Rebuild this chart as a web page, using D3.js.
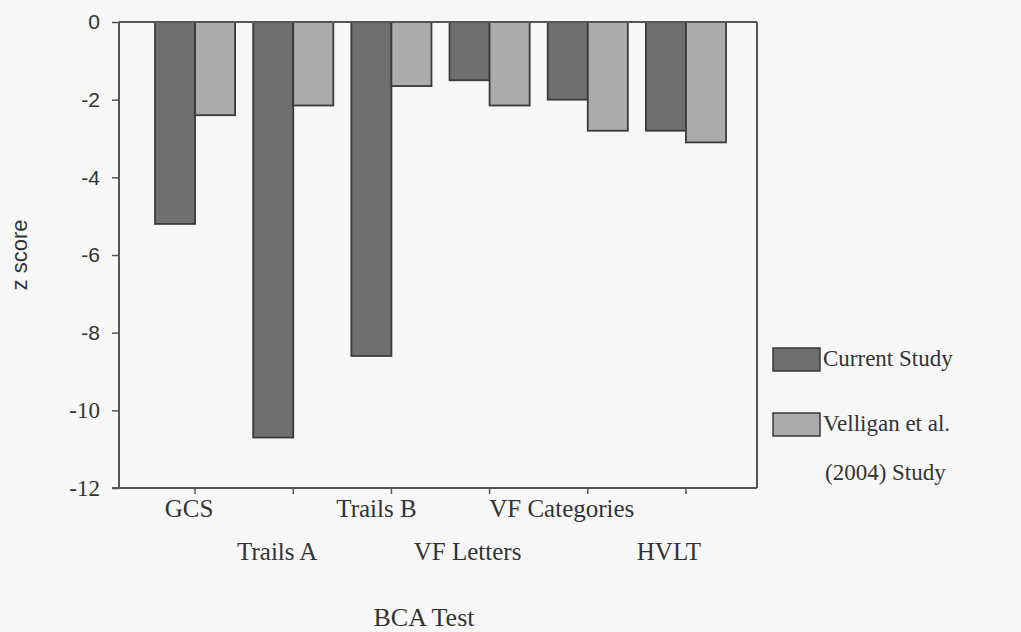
<!DOCTYPE html>
<html>
<head>
<meta charset="utf-8">
<script src="https://cdn.jsdelivr.net/npm/d3@7"></script>
<style>
  html, body { margin: 0; padding: 0; background: #f7f7f7; }
  svg { display: block; }
</style>
</head>
<body>
<svg id="chart" width="1021" height="632"></svg>
<script>
// ---- data ----
const categories = ["GCS", "Trails A", "Trails B", "VF Letters", "VF Categories", "HVLT"];
const series = ["Current Study", "Velligan et al. (2004) Study"];
const currentStudy = [-5.2, -10.7, -8.6, -1.5, -2.0, -2.8];
const velligan2004 = [-2.4, -2.15, -1.65, -2.15, -2.8, -3.1];
const yTicks = [0, -2, -4, -6, -8, -10, -12];
const xTitle = "BCA Test";
const yTitle = "z score";
const legendLines = [["Current Study"], ["Velligan et al.", "(2004) Study"]];

// layout (label nudges relative to tick marks)
const labelDx = [-6, -16, -15, -22, -26, -17];

const values = [currentStudy, velligan2004];
const fills = ["#6f6f6f", "#ababab"];

const svg = d3.select("#chart");
svg.append("rect").attr("width", 1021).attr("height", 632).attr("fill", "#f7f7f7");

const plot = { left: 119, right: 757, top: 22, bottom: 488 };

const x0 = d3.scaleBand().domain(categories).range([155, 726]).paddingInner(0.184).paddingOuter(0);
const x1 = d3.scaleBand().domain(series).range([0, x0.bandwidth()]);
const y = d3.scaleLinear().domain([-12, 0]).range([plot.bottom, plot.top]);

const axisColor = "#555";

// bars
const groups = svg.append("g").selectAll("g").data(categories).join("g")
  .attr("transform", d => `translate(${x0(d)},0)`);
groups.selectAll("rect").data((d, i) => series.map((s, j) => ({ s, v: values[j][i], j })))
  .join("rect")
  .attr("x", d => x1(d.s))
  .attr("y", d => y(0))
  .attr("width", x1.bandwidth())
  .attr("height", d => y(d.v) - y(0))
  .attr("fill", d => fills[d.j])
  .attr("stroke", "#3a3a3a").attr("stroke-width", 1.8);

// frame
const frame = svg.append("g").attr("stroke", axisColor).attr("stroke-width", 2).attr("fill", "none");
frame.append("line").attr("x1", plot.left).attr("x2", plot.right).attr("y1", plot.top).attr("y2", plot.top);
frame.append("line").attr("x1", plot.right).attr("x2", plot.right).attr("y1", plot.top).attr("y2", plot.bottom);

// y axis
const yAxis = svg.append("g").attr("transform", `translate(${plot.left},0)`)
  .call(d3.axisLeft(y).tickValues(yTicks).tickSize(7).tickPadding(12).tickFormat(d3.format("d")));
yAxis.select(".domain").attr("stroke", axisColor).attr("stroke-width", 2)
  .attr("d", `M0,${plot.top}V${plot.bottom}`);
yAxis.selectAll(".tick line").attr("stroke", axisColor).attr("stroke-width", 1.5);
yAxis.selectAll(".tick text")
  .attr("font-family", d => d <= -10 ? "Liberation Serif" : "Liberation Sans")
  .attr("font-size", d => d <= -10 ? 23 : 21)
  .attr("fill", "#333")
  .text(d => d === 0 ? "0" : "-" + Math.abs(d));

// x axis
const xAxis = svg.append("g").attr("transform", `translate(0,${plot.bottom})`)
  .call(d3.axisBottom(x0).tickSize(6).tickFormat(""));
xAxis.select(".domain").attr("stroke", axisColor).attr("stroke-width", 2)
  .attr("d", `M${plot.left - 7},0H${plot.right}`);
xAxis.selectAll(".tick line").attr("stroke", axisColor).attr("stroke-width", 1.5);
xAxis.selectAll(".tick").append("text")
  .attr("x", (d, i) => labelDx[i])
  .attr("y", (d, i) => i % 2 === 0 ? 29 : 72)
  .attr("text-anchor", "middle")
  .attr("font-family", "Liberation Serif").attr("font-size", 25)
  .attr("fill", "#333")
  .text(d => d);

// axis titles
svg.append("text").attr("x", 424).attr("y", 626).attr("text-anchor", "middle")
  .attr("font-family", "Liberation Serif").attr("font-size", 26).attr("fill", "#333").text(xTitle);
svg.append("text").attr("transform", `translate(27,${(plot.top + plot.bottom) / 2}) rotate(-90)`)
  .attr("text-anchor", "middle")
  .attr("font-family", "Liberation Sans").attr("font-size", 22).attr("fill", "#333").text(yTitle);

// legend
const legend = svg.append("g").attr("transform", "translate(773,348)");
const lg = legend.selectAll("g").data(series).join("g")
  .attr("transform", (d, i) => `translate(0,${i * 65})`);
lg.append("rect").attr("width", 47).attr("height", 23)
  .attr("fill", (d, i) => fills[i]).attr("stroke", "#3a3a3a").attr("stroke-width", 1.5);
lg.each(function (d, i) {
  const g = d3.select(this);
  legendLines[i].forEach((t, k) => {
    g.append("text").attr("x", k === 0 ? 50 : 52).attr("y", 18 + k * 49)
      .attr("font-family", "Liberation Serif").attr("font-size", 23).attr("fill", "#333").text(t);
  });
});
</script>
</body>
</html>
